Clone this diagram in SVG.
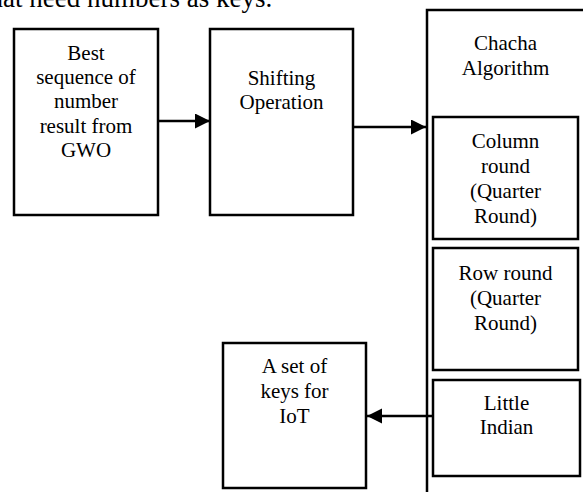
<svg xmlns="http://www.w3.org/2000/svg" width="583" height="492" viewBox="0 0 583 492">
<style>
.box{fill:#fff;stroke:#000;stroke-width:2.5}
.t{font-family:"Liberation Serif","Times New Roman",serif;font-size:21px;fill:#000;text-anchor:middle}
.top{font-family:"Liberation Serif","Times New Roman",serif;font-size:27px;fill:#000}
.c{stroke:#000;stroke-width:2.5;fill:none}
</style>
<defs>
<marker id="ah" markerUnits="userSpaceOnUse" markerWidth="16" markerHeight="16" refX="15" refY="7.5" orient="auto">
<path d="M0,0 L15,7.5 L0,15 z" fill="#000"/>
</marker>
</defs>
<rect width="583" height="492" fill="#fff"/>
<text class="top" x="-10.5" y="6.5">hat need numbers as keys.</text>
<g id="chacha">
<rect class="box" x="427" y="10" width="200" height="500"/>
<text class="t" x="505.5" y="50">Chacha</text>
<text class="t" x="505.5" y="75">Algorithm</text>
</g>
<g id="best">
<rect class="box" x="14" y="29" width="144" height="186"/>
<text class="t" x="86" y="60">Best</text>
<text class="t" x="86" y="84.2">sequence of</text>
<text class="t" x="86" y="108.4">number</text>
<text class="t" x="86" y="132.6">result from</text>
<text class="t" x="86" y="156.8">GWO</text>
</g>
<g id="shifting">
<rect class="box" x="210" y="29" width="143" height="186"/>
<text class="t" x="281.5" y="85">Shifting</text>
<text class="t" x="281.5" y="109">Operation</text>
</g>
<g id="column">
<rect class="box" x="433" y="117" width="145" height="122"/>
<text class="t" x="505.5" y="148">Column</text>
<text class="t" x="505.5" y="173">round</text>
<text class="t" x="505.5" y="198">(Quarter</text>
<text class="t" x="505.5" y="223">Round)</text>
</g>
<g id="row">
<rect class="box" x="433" y="248" width="145" height="122"/>
<text class="t" x="505.5" y="280">Row round</text>
<text class="t" x="505.5" y="305">(Quarter</text>
<text class="t" x="505.5" y="330">Round)</text>
</g>
<g id="little">
<rect class="box" x="433" y="380" width="147" height="96"/>
<text class="t" x="506.5" y="410">Little</text>
<text class="t" x="506.5" y="434">Indian</text>
</g>
<g id="keys">
<rect class="box" x="223" y="343" width="143" height="145"/>
<text class="t" x="294.5" y="373">A set of</text>
<text class="t" x="294.5" y="398">keys for</text>
<text class="t" x="294.5" y="423">IoT</text>
</g>
<g id="connectors">
<line class="c" x1="158" y1="121" x2="210" y2="121" marker-end="url(#ah)"/>
<line class="c" x1="353" y1="127" x2="426" y2="127" marker-end="url(#ah)"/>
<line class="c" x1="433" y1="416" x2="367" y2="416" marker-end="url(#ah)"/>
</g>
</svg>
